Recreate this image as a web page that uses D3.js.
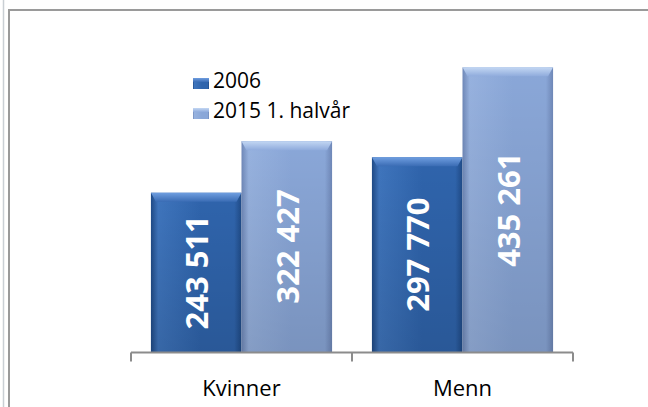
<!DOCTYPE html>
<html><head><meta charset="utf-8">
<script src="https://cdn.jsdelivr.net/npm/d3@7"></script>
<style>html,body{margin:0;padding:0;background:#fff;}svg{display:block;}</style>
</head><body>
<svg id="c" width="648" height="407"></svg>
<script>
const categories = ["Kvinner", "Menn"];
const seriesNames = ["2006", "2015 1. halvår"];
const values2006 = [243511, 297770];
const values2015 = [322427, 435261];
const valueLabels2006 = ["243 511", "297 770"];
const valueLabels2015 = ["322 427", "435 261"];

const svg = d3.select("#c");
const defs = svg.append("defs");

const palettes = [
  {edge: "#1f4a86", mid: "#2f64ac", light: "#3f75bd", top: "#6f9ee0", topEdge: "#3a6cb4"},
  {edge: "#6f88b8", mid: "#8aa7d8", light: "#97b2df", top: "#c3d7f3", topEdge: "#8fabdc"}
];
palettes.forEach((p, i) => {
  const g = defs.append("linearGradient").attr("id", "hg" + i).attr("x1", 0).attr("x2", 1).attr("y1", 0).attr("y2", 0);
  g.append("stop").attr("offset", "0%").attr("stop-color", p.edge);
  g.append("stop").attr("offset", "8%").attr("stop-color", p.light);
  g.append("stop").attr("offset", "55%").attr("stop-color", p.mid);
  g.append("stop").attr("offset", "92%").attr("stop-color", p.mid);
  g.append("stop").attr("offset", "100%").attr("stop-color", p.edge);
  const t = defs.append("linearGradient").attr("id", "tg" + i).attr("x1", 0).attr("x2", 0).attr("y1", 0).attr("y2", 1);
  t.append("stop").attr("offset", "0%").attr("stop-color", p.top);
  t.append("stop").attr("offset", "100%").attr("stop-color", p.topEdge);
});
const vg = defs.append("linearGradient").attr("id", "vshade").attr("x1", 0).attr("x2", 0).attr("y1", 0).attr("y2", 1);
vg.append("stop").attr("offset", "0%").attr("stop-color", "#000").attr("stop-opacity", 0);
vg.append("stop").attr("offset", "100%").attr("stop-color", "#000").attr("stop-opacity", 0.12);

// frame
svg.append("line").attr("x1", 3.5).attr("x2", 3.5).attr("y1", 0).attr("y2", 407).attr("stroke", "#c9cfd4").attr("stroke-width", 1.5);
svg.append("path").attr("d", "M9,407 V10 H648").attr("fill", "none").attr("stroke", "#9a9a9a").attr("stroke-width", 2);

const x0 = d3.scaleBand().domain(categories).range([131, 573]).paddingInner(0).paddingOuter(0);
const x1 = d3.scaleBand().domain(seriesNames).range([0, x0.bandwidth()]).paddingInner(0).paddingOuter(0.22);
const y = d3.scaleLinear().domain([0, 500000]).range([352, 25]);

const data = [];
categories.forEach((c, ci) => {
  data.push({cat: c, s: 0, v: values2006[ci], label: valueLabels2006[ci]});
  data.push({cat: c, s: 1, v: values2015[ci], label: valueLabels2015[ci]});
});

const bars = svg.append("g").selectAll("g").data(data).join("g")
  .attr("transform", d => `translate(${x0(d.cat) + x1(seriesNames[d.s])},0)`);
const bw = x1.bandwidth();
bars.append("rect").attr("x", 0).attr("width", bw).attr("y", d => y(d.v)).attr("height", d => y(0) - y(d.v))
  .attr("fill", d => `url(#hg${d.s})`);
bars.append("rect").attr("x", 0).attr("width", bw).attr("y", d => y(d.v)).attr("height", d => y(0) - y(d.v))
  .attr("fill", "url(#vshade)");
bars.append("path")
  .attr("d", d => { const t = y(d.v); return `M0,${t} H${bw} L${bw-5},${t+9} H5 Z`; })
  .attr("fill", d => `url(#tg${d.s})`);
bars.append("text")
  .attr("transform", d => `translate(${bw/2 + 1},${(y(d.v) + y(0)) / 2}) rotate(-90)`)
  .attr("text-anchor", "middle").attr("dy", "0.36em")
  .attr("font-family", "Open Sans").attr("font-weight", 700).attr("font-size", 31)
  .attr("fill", "#fff").text(d => d.label);

// axis
const axis = d3.axisBottom(x0).tickSize(0).tickFormat("");
const ag = svg.append("g").attr("transform", "translate(0,352.5)").call(axis);
ag.select(".domain").attr("stroke", "#8c8c8c").attr("stroke-width", 2).attr("d", "M131,0H573");
const edges = [...categories.map(c => x0(c)), x0.range()[1]];
ag.selectAll(".edge").data(edges).join("line").attr("class", "edge")
  .attr("x1", d => d).attr("x2", d => d).attr("y1", 0).attr("y2", 9).attr("stroke", "#8c8c8c").attr("stroke-width", 2);
svg.append("g").selectAll("text").data(categories).join("text")
  .attr("x", d => x0(d) + x0.bandwidth() / 2).attr("y", 396)
  .attr("text-anchor", "middle").attr("font-family", "Open Sans").attr("font-size", 22).attr("fill", "#000")
  .text(d => d);

// legend
const lg = svg.append("g").selectAll("g").data(seriesNames).join("g")
  .attr("transform", (d, i) => `translate(193,${i * 30})`);
lg.append("rect").attr("x", 0).attr("y", 78).attr("width", 16).attr("height", 11).attr("fill", (d, i) => `url(#hg${i})`);
lg.append("rect").attr("x", 0).attr("y", 78).attr("width", 16).attr("height", 4).attr("fill", (d, i) => `url(#tg${i})`);
lg.append("text").attr("x", 20).attr("y", 88).attr("font-family", "Open Sans").attr("font-size", 21).attr("fill", "#000").text(d => d);
</script>
</body></html>
